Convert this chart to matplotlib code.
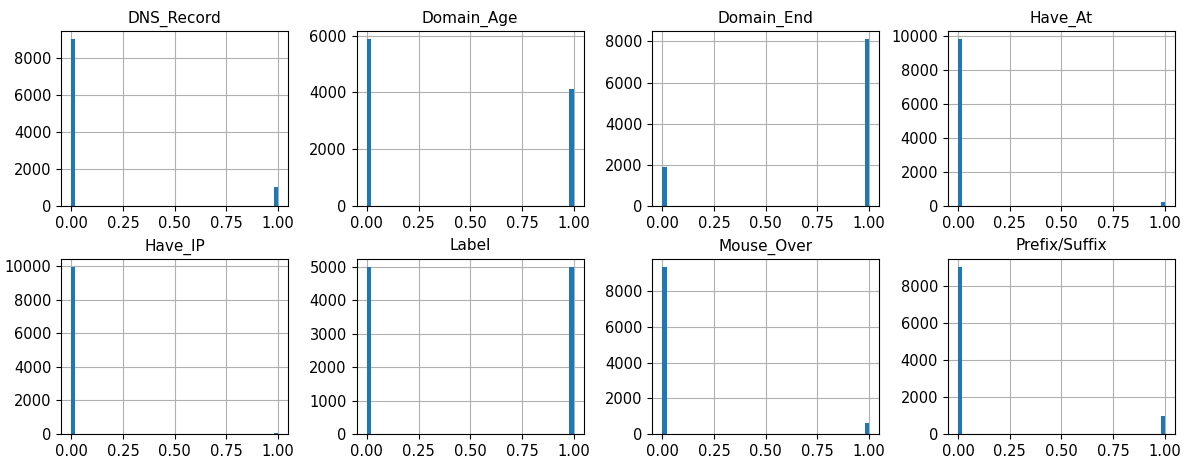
import matplotlib
matplotlib.use("Agg")
import matplotlib.pyplot as plt

# Feature names (subplot titles) and counts of value 0 and value 1
features = ["DNS_Record", "Domain_Age", "Domain_End", "Have_At",
            "Have_IP", "Label", "Mouse_Over", "Prefix/Suffix"]
values = [0, 1]
count_zero = [8980, 5870, 1900, 9780, 9940, 5000, 9360, 9030]
count_one = [1020, 4130, 8100, 220, 60, 5000, 640, 970]
xticks = [0.00, 0.25, 0.50, 0.75, 1.00]

fig, axes = plt.subplots(2, 4, figsize=(11.84, 4.61), dpi=100)
fig.subplots_adjust(left=0.0515, right=0.9924, bottom=0.0586, top=0.9328,
                    wspace=0.30, hspace=0.30)

for ax, name, c0, c1 in zip(axes.flat, features, count_zero, count_one):
    ax.hist(values, bins=50, range=(0, 1), weights=[c0, c1], color="#1f77b4")
    ax.set_title(name, fontsize=11)
    ax.set_xticks(xticks)
    ax.set_xticklabels([f"{t:.2f}" for t in xticks])
    ax.tick_params(labelsize=10.5)
    ax.grid(True, color="#b0b0b0", linewidth=0.8)
    ax.set_axisbelow(True)

fig.savefig("out.png", dpi=100)
